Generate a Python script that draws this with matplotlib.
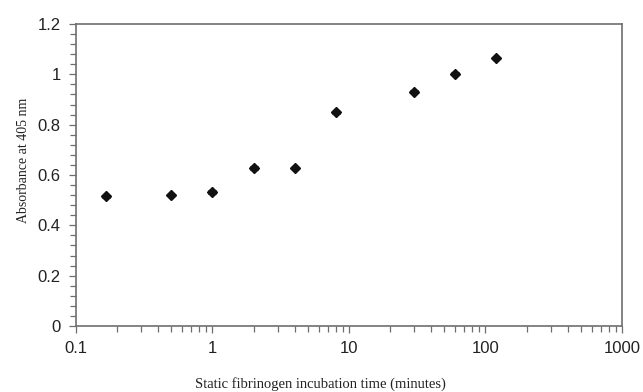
import numpy as np
import matplotlib
matplotlib.use('Agg')
import matplotlib.pyplot as plt
import matplotlib.ticker as mtick

# incubation time in minutes (10 s ... 2 h) and absorbance readings
times = [1 / 6, 0.5, 1, 2, 4, 8, 30, 60, 120]
absorbance = [0.516, 0.520, 0.532, 0.628, 0.627, 0.849, 0.931, 1.003, 1.064]
errors = [0.006, 0.005, 0.008, 0.008, 0.005, 0.005, 0.005, 0.005, 0.005]

x_ticks = [0.1, 1, 10, 100, 1000]
x_tick_labels = ['0.1', '1', '10', '100', '1000']
y_ticks = [0, 0.2, 0.4, 0.6, 0.8, 1.0, 1.2]
y_tick_labels = ['0', '0.2', '0.4', '0.6', '0.8', '1', '1.2']

spine_grey = '#6e6e6e'

fig = plt.figure(figsize=(6.43, 3.92), dpi=100)
ax = fig.add_axes([0.1182, 0.1684, 0.8491, 0.7704])

ax.errorbar(times, absorbance, yerr=errors, fmt='D', color='#111111',
            markersize=5.5, ecolor='#111111', elinewidth=0.8, capsize=3,
            capthick=0.8)

ax.set_xscale('log')
ax.set_xlim(0.1, 1000)
ax.set_ylim(0, 1.2)

ax.xaxis.set_major_locator(mtick.FixedLocator(x_ticks))
ax.xaxis.set_major_formatter(mtick.FixedFormatter(x_tick_labels))
ax.xaxis.set_minor_locator(mtick.LogLocator(base=10, subs=np.arange(2, 10)))
ax.xaxis.set_minor_formatter(mtick.NullFormatter())

ax.yaxis.set_major_locator(mtick.FixedLocator(y_ticks))
ax.yaxis.set_major_formatter(mtick.FixedFormatter(y_tick_labels))
ax.yaxis.set_minor_locator(mtick.MultipleLocator(0.04))

for s in ax.spines.values():
    s.set_color(spine_grey)
    s.set_linewidth(1.2)

ax.tick_params(which='both', direction='out', color=spine_grey, width=0.9)
ax.tick_params(which='major', length=5, labelsize=12, labelcolor='#222222',
               pad=6)
ax.tick_params(which='minor', length=4)
for lab in ax.get_xticklabels() + ax.get_yticklabels():
    lab.set_family('Liberation Sans')

ax.set_xlabel('Static fibrinogen incubation time (minutes)',
              family='Liberation Serif', fontsize=10.5, color='#222222')
ax.xaxis.set_label_coords(0.447, -0.168)
ax.set_ylabel('Absorbance at 405 nm', family='Liberation Serif',
              fontsize=10, color='#222222')
ax.yaxis.set_label_coords(-0.085, 0.55)

fig.savefig('out.png', dpi=100)
